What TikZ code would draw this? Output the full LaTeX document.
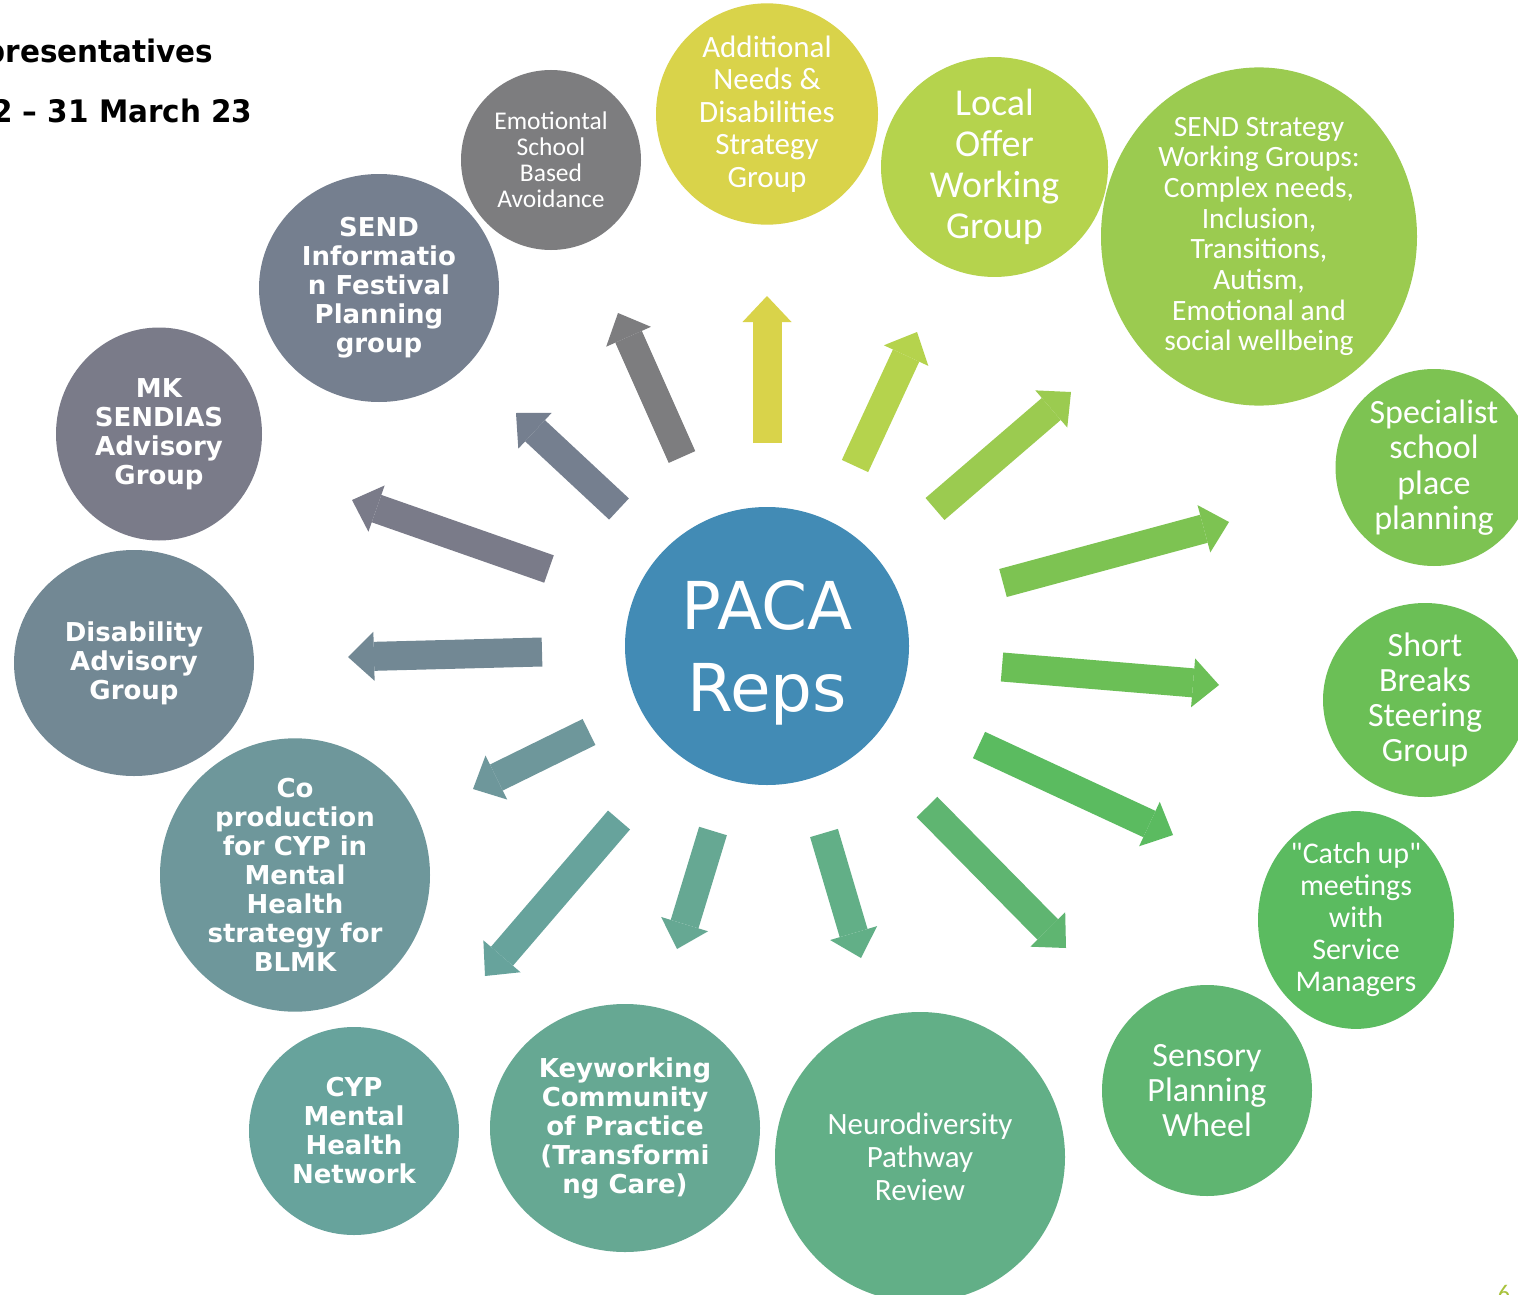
\documentclass[tikz,border=0pt]{standalone}
\usepackage{fontspec}
\usetikzlibrary{shapes.geometric,arrows.meta}
\newfontfamily\candf{Carlito}
\newfontfamily\verdf{DejaVu Sans}
\newfontfamily\verdtitle[FakeStretch=0.95]{DejaVu Sans}
\definecolor{cPaca}{HTML}{428BB5}
\definecolor{cAdd}{HTML}{D9D34A}
\definecolor{cLocal}{HTML}{B5D34D}
\definecolor{cStrat}{HTML}{9BCB50}
\definecolor{cSpec}{HTML}{7DC352}
\definecolor{cShort}{HTML}{6BBF56}
\definecolor{cCatch}{HTML}{5BBB60}
\definecolor{cSens}{HTML}{5FB571}
\definecolor{cNeuro}{HTML}{62AF87}
\definecolor{cKey}{HTML}{66A893}
\definecolor{cCyp}{HTML}{67A39C}
\definecolor{cCo}{HTML}{6E979B}
\definecolor{cDis}{HTML}{728894}
\definecolor{cMk}{HTML}{7A7B89}
\definecolor{cInfo}{HTML}{757F8F}
\definecolor{cEmo}{HTML}{7D7D7F}
\definecolor{cPage}{HTML}{A8C23A}
\tikzset{
  bub/.style={ellipse, inner sep=0pt, align=center, text=white},
  verdtext/.style={font={\verdf\bfseries\fontsize{26}{29}\selectfont}},
  blockarrow/.style={line width=29pt, draw=#1, -{Triangle[length=26pt,width=49pt,line width=0pt]}},
  titletext/.style={anchor=base east, font={\verdtitle\bfseries\fontsize{31}{32}\selectfont}}
}
\begin{document}
\begin{tikzpicture}[x=1pt,y=-1pt]
\useasboundingbox (0,0) rectangle (1518,1295);
\clip (0,0) rectangle (1518,1295);
\fill[white] (0,0) rectangle (1518,1295);

% title
\node[titletext] (title1) at (217,63) {presentatives};
\node[titletext] (title2) at (256,123) {2 – 31 March 23};

% centre
\node[bub, fill=cPaca, minimum width=284pt, minimum height=278pt] (paca) at (767,646) {};
\node[align=center, text=white, inner sep=0pt,
      font={\verdf\fontsize{66}{82}\selectfont}] (pacatext) at (767,653) {PACA\\Reps};

% outer bubbles
\node[bub, fill=cEmo, minimum width=180pt, minimum height=180pt,
      font={\candf\fontsize{25.5}{26}\selectfont}] (emo) at (551,160)
      {Emotiontal\\School\\Based\\Avoidance};
\node[bub, fill=cInfo, minimum width=240pt, minimum height=228pt, verdtext] (info) at (379,288)
      {SEND\\Informatio\\n Festival\\Planning\\group};
\node[bub, fill=cAdd, minimum width=222pt, minimum height=217pt,
      font={\candf\fontsize{31}{32.5}\selectfont}] (add) at (767,114)
      {Additional\\Needs \&\\Disabilities\\Strategy\\Group};
\node[bub, fill=cLocal, minimum width=227pt, minimum height=218pt,
      font={\candf\fontsize{38}{41}\selectfont}] (local) at (994.5,167)
      {Local\\Offer\\Working\\Group};
\node[bub, fill=cStrat, minimum width=316pt, minimum height=323pt,
      font={\candf\fontsize{29.5}{30.7}\selectfont}] (strat) at (1259,236.5)
      {SEND Strategy\\Working Groups:\\Complex needs,\\Inclusion,\\Transitions,\\Autism,\\Emotional and\\social wellbeing};
\node[bub, fill=cSpec, minimum width=197pt, minimum height=197pt,
      font={\candf\fontsize{34}{35.5}\selectfont}] (spec) at (1434,467.5)
      {Specialist\\school\\place\\planning};
\node[bub, fill=cShort, minimum width=204pt, minimum height=194pt,
      font={\candf\fontsize{34}{35}\selectfont}] (short) at (1425,700)
      {Short\\Breaks\\Steering\\Group};
\node[bub, fill=cCatch, minimum width=196pt, minimum height=206pt,
      font={\candf\fontsize{30}{32}\selectfont}] (catch) at (1356,920)
      {"Catch up"\\meetings\\with\\Service\\Managers};
\node[bub, fill=cSens, minimum width=210pt, minimum height=211pt,
      font={\candf\fontsize{34}{35}\selectfont}] (sens) at (1207,1090.5)
      {Sensory\\Planning\\Wheel};
\node[bub, fill=cNeuro, minimum width=290pt, minimum height=290pt,
      font={\candf\fontsize{31}{33}\selectfont}] (neuro) at (920,1157)
      {Neurodiversity\\Pathway\\Review};
\node[bub, fill=cKey, minimum width=270pt, minimum height=248pt, verdtext] (key) at (625,1128)
      {Keyworking\\Community\\of Practice\\(Transformi\\ng Care)};
\node[bub, fill=cCyp, minimum width=210pt, minimum height=208pt, verdtext] (cyp) at (354,1131)
      {CYP\\Mental\\Health\\Network};
\node[bub, fill=cCo, minimum width=270pt, minimum height=265pt, verdtext] (co) at (295,875)
      {Co\\production\\for CYP in\\Mental\\Health\\strategy for\\BLMK};
\node[bub, fill=cDis, minimum width=240pt, minimum height=226pt, verdtext] (dis) at (134,663)
      {Disability\\Advisory\\Group};
\node[bub, fill=cMk, minimum width=206pt, minimum height=213pt, verdtext] (mk) at (159,434)
      {MK\\SENDIAS\\Advisory\\Group};

% arrow end points
\coordinate (e1) at (682,457);   \coordinate (h1) at (618,313);
\coordinate (e2) at (767,443);   \coordinate (h2) at (767,296);
\coordinate (e3) at (855,466);   \coordinate (h3) at (917,332);
\coordinate (e4) at (935,509);   \coordinate (h4) at (1071,392);
\coordinate (e5) at (1003,583);  \coordinate (h5) at (1229,522);
\coordinate (e6) at (1002,667);  \coordinate (h6) at (1219,685);
\coordinate (e7) at (979,745);   \coordinate (h7) at (1173,835);
\coordinate (e8) at (927,807);   \coordinate (h8) at (1066,948);
\coordinate (e9) at (824,833);   \coordinate (h9) at (861,958);
\coordinate (e10) at (713,831);  \coordinate (h10) at (677,949);
\coordinate (e11) at (619,820);  \coordinate (h11) at (485,976);
\coordinate (e12) at (589,732);  \coordinate (h12) at (473,789);
\coordinate (e13) at (542,652);  \coordinate (h13) at (348,657);
\coordinate (e14) at (549,569);  \coordinate (h14) at (352,500);
\coordinate (e15) at (619,509);  \coordinate (h15) at (516,413);

\draw[blockarrow=cEmo]   (e1) -- (h1);
\draw[blockarrow=cAdd]   (e2) -- (h2);
\draw[blockarrow=cLocal] (e3) -- (h3);
\draw[blockarrow=cStrat] (e4) -- (h4);
\draw[blockarrow=cSpec]  (e5) -- (h5);
\draw[blockarrow=cShort] (e6) -- (h6);
\draw[blockarrow=cCatch] (e7) -- (h7);
\draw[blockarrow=cSens]  (e8) -- (h8);
\draw[blockarrow=cNeuro] (e9) -- (h9);
\draw[blockarrow=cKey]   (e10) -- (h10);
\draw[blockarrow=cCyp]   (e11) -- (h11);
\draw[blockarrow=cCo]    (e12) -- (h12);
\draw[blockarrow=cDis]   (e13) -- (h13);
\draw[blockarrow=cMk]    (e14) -- (h14);
\draw[blockarrow=cInfo]  (e15) -- (h15);

% page number
\node[anchor=base, text=cPage, font={\candf\fontsize{24}{24}\selectfont}] (page) at (1504,1301) {6};
\end{tikzpicture}
\end{document}
